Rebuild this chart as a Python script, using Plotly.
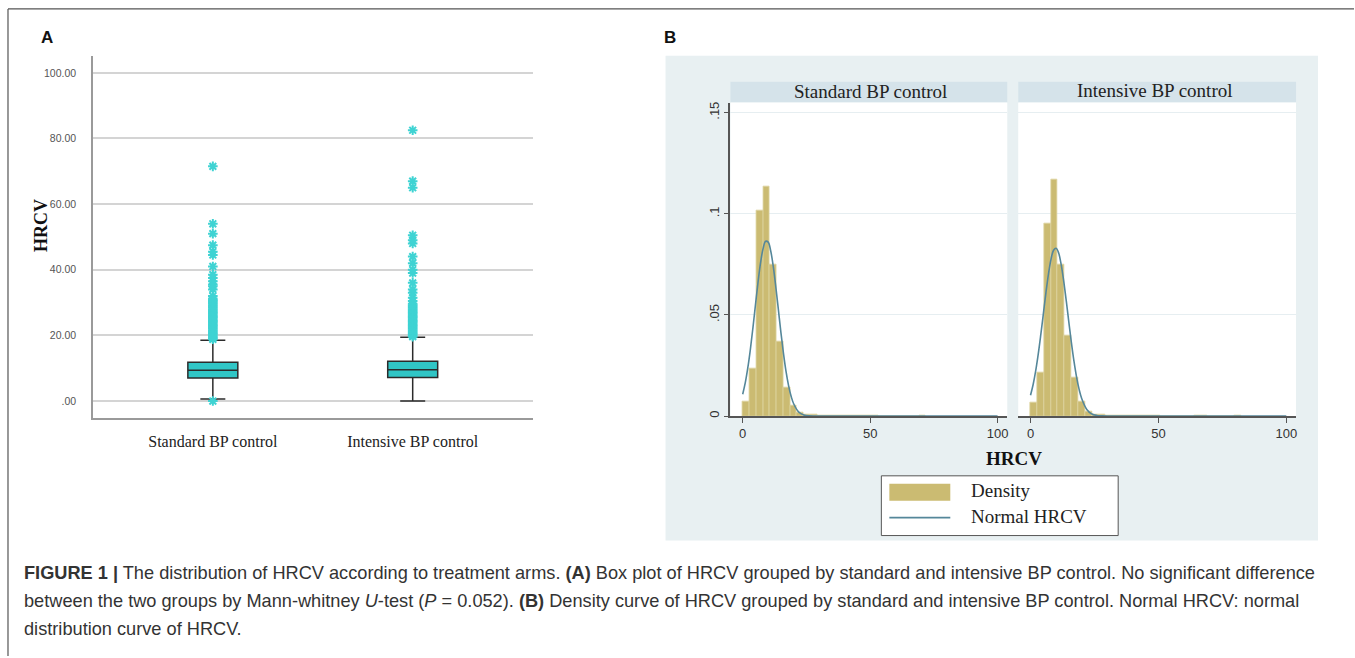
import plotly.graph_objects as go

W, H = 1355, 658

# ---------------- DATA ----------------
groups = ["Standard BP control", "Intensive BP control"]

# Panel A: box statistics (HRCV)
box_q1 = [7.0, 7.2]
box_median = [9.4, 9.5]
box_q3 = [11.8, 12.1]
box_lower = [0.6, 0.0]
box_upper = [18.5, 19.4]

outliers_standard = [0.0, 18.8, 19.2, 19.6, 20.0, 20.4, 20.8, 21.2, 21.6, 22.0, 22.4, 22.8,
                     23.2, 23.6, 24.0, 24.4, 24.8, 25.2, 25.6, 26.0, 26.4, 26.8, 27.2, 27.6,
                     28.0, 28.4, 28.8, 29.2, 29.6, 30.0, 30.4, 30.8, 31.2, 32.0, 34.0, 35.0,
                     35.5, 36.5, 37.5, 38.5, 41.0, 44.5, 45.5, 47.5, 51.0, 54.0, 71.5]
outliers_intensive = [19.6, 20.0, 20.4, 20.8, 21.2, 21.6, 22.0, 22.4, 22.8, 23.2, 23.6, 24.0,
                      24.4, 24.8, 25.2, 25.6, 26.0, 26.4, 26.8, 27.2, 27.6, 28.0, 28.4, 28.8,
                      29.2, 29.6, 30.5, 31.5, 33.0, 34.0, 36.0, 39.0, 40.0, 42.0, 44.0, 48.0,
                      49.0, 50.5, 65.0, 67.0, 82.5]

a_yticks = [0, 20, 40, 60, 80, 100]
a_yticklabels = [".00", "20.00", "40.00", "60.00", "80.00", "100.00"]

# Panel B: histogram densities (common bin width)
bin_width = 2.66
density_standard = [0.0071, 0.0235, 0.1014, 0.1135, 0.075, 0.0369, 0.014, 0.005, 0.002,
                    0.001, 0.0008, 0.0005, 0.0004, 0.0003, 0.0002, 0.0002, 0.0002, 0.0001,
                    0.0001, 0.0001, 0, 0, 0, 0, 0, 0, 0.0002]
density_intensive = [0.0065, 0.0215, 0.095, 0.117, 0.075, 0.040, 0.019, 0.007, 0.0025,
                     0.001, 0.0008, 0.0005, 0.0004, 0.0003, 0.0002, 0.0002, 0.0002, 0.0001,
                     0.0001, 0, 0, 0, 0, 0, 0.0002, 0.0002, 0, 0, 0, 0, 0.0002]

# Normal curves
normal_x = [0, 1, 2, 3, 4, 5, 6, 7, 8, 9, 10, 11, 12, 13, 14, 15, 16, 17, 18, 19, 20,
            22, 24, 26, 28, 30, 100]
normal_standard = [0.0108, 0.0164, 0.0238, 0.0329, 0.0435, 0.0549, 0.0660, 0.0757, 0.0828,
                   0.0864, 0.0860, 0.0816, 0.0739, 0.0638, 0.0526, 0.0413, 0.0310, 0.0221,
                   0.0151, 0.0098, 0.0061, 0.0020, 0.0006, 0.0001, 0.0, 0.0, 0.0]
normal_intensive = [0.0103, 0.0155, 0.0222, 0.0305, 0.0401, 0.0504, 0.0608, 0.0701, 0.0775,
                    0.0820, 0.0830, 0.0806, 0.0748, 0.0665, 0.0567, 0.0462, 0.0361, 0.0270,
                    0.0193, 0.0132, 0.0087, 0.0033, 0.0010, 0.0003, 0.0001, 0.0, 0.0]

b_yticks = [0, 0.05, 0.1, 0.15]
b_yticklabels = ["0", ".05", ".1", ".15"]
b_xticks = [0, 50, 100]

# ---------------- STYLE ----------------
BOX_FILL = "#30c6c6"
OUT_COLOR = "#3fd3d3"
BAR_COLOR = "#cbbb72"
BAR_EDGE = "#ddd3a0"
CURVE = "#55879a"
PANEL_BG = "#e8f0f2"
STRIP_BG = "#d5e3ea"
SERIF = "Liberation Serif, Times New Roman, serif"
SANS = "Liberation Sans, Arial, sans-serif"


def px(x):
    return x / W


def py(y):
    return 1 - y / H


fig = go.Figure()

# ---- Panel A ----
for i, g in enumerate(groups):
    fig.add_trace(go.Box(
        x=[i], q1=[box_q1[i]], median=[box_median[i]], q3=[box_q3[i]],
        lowerfence=[box_lower[i]], upperfence=[box_upper[i]],
        width=0.25, whiskerwidth=0.5, boxpoints=False,
        fillcolor=BOX_FILL, line=dict(color="#2b2b2b", width=1.5),
        xaxis="x", yaxis="y", showlegend=False, hoverinfo="skip"))

for i, vals in enumerate([outliers_standard, outliers_intensive]):
    fig.add_trace(go.Scatter(
        x=[i] * len(vals), y=vals, mode="markers",
        marker=dict(symbol="asterisk-open", size=8, color=OUT_COLOR,
                    line=dict(color=OUT_COLOR, width=2)),
        xaxis="x", yaxis="y", showlegend=False, hoverinfo="skip"))

# ---- Panel B ----
for k, (dens, curve) in enumerate([(density_standard, normal_standard),
                                   (density_intensive, normal_intensive)]):
    xa = "x2" if k == 0 else "x3"
    centers = [(j + 0.5) * bin_width for j in range(len(dens))]
    fig.add_trace(go.Bar(
        x=centers, y=dens, width=bin_width,
        marker=dict(color=BAR_COLOR, line=dict(color=BAR_EDGE, width=0.8)),
        xaxis=xa, yaxis="y2", showlegend=False, hoverinfo="skip"))
    fig.add_trace(go.Scatter(
        x=normal_x, y=curve, mode="lines", line=dict(color=CURVE, width=1.6, shape="spline"),
        xaxis=xa, yaxis="y2", showlegend=False, hoverinfo="skip"))

shapes = []
# figure frame
shapes.append(dict(type="line", xref="paper", yref="paper", x0=px(8), x1=1.0, y0=py(8), y1=py(8),
                   line=dict(color="#555", width=1.2), layer="above"))
shapes.append(dict(type="line", xref="paper", yref="paper", x0=px(8), x1=px(8), y0=py(8), y1=0,
                   line=dict(color="#555", width=1.2), layer="above"))
# panel B background
shapes.append(dict(type="rect", xref="paper", yref="paper", x0=px(666), x1=px(1319),
                   y0=py(542), y1=py(55), fillcolor=PANEL_BG, line=dict(width=0), layer="below"))
# strips
shapes.append(dict(type="rect", xref="paper", yref="paper", x0=px(731), x1=px(1008),
                   y0=py(102), y1=py(81), fillcolor=STRIP_BG, line=dict(width=0), layer="below"))
shapes.append(dict(type="rect", xref="paper", yref="paper", x0=px(1019), x1=px(1297),
                   y0=py(102), y1=py(81), fillcolor=STRIP_BG, line=dict(width=0), layer="below"))
# white plot areas (panel B)
shapes.append(dict(type="rect", xref="paper", yref="paper", x0=px(731), x1=px(1008),
                   y0=py(417), y1=py(102), fillcolor="white", line=dict(width=0), layer="below"))
shapes.append(dict(type="rect", xref="paper", yref="paper", x0=px(1019), x1=px(1297),
                   y0=py(417), y1=py(102), fillcolor="white", line=dict(width=0), layer="below"))
# legend box
shapes.append(dict(type="rect", xref="paper", yref="paper", x0=px(882), x1=px(1119),
                   y0=py(537), y1=py(477), fillcolor="white", line=dict(color="#555", width=1)))
shapes.append(dict(type="rect", xref="paper", yref="paper", x0=px(890), x1=px(951),
                   y0=py(502), y1=py(485), fillcolor=BAR_COLOR, line=dict(width=0)))
shapes.append(dict(type="line", xref="paper", yref="paper", x0=px(890), x1=px(951),
                   y0=py(519), y1=py(519), line=dict(color=CURVE, width=1.6)))

annotations = [
    dict(text="<b>A</b>", x=px(47), y=py(37), xref="paper", yref="paper", showarrow=False,
         font=dict(family=SANS, size=17, color="#111"), xanchor="center", yanchor="middle"),
    dict(text="<b>B</b>", x=px(670), y=py(37), xref="paper", yref="paper", showarrow=False,
         font=dict(family=SANS, size=17, color="#111"), xanchor="center", yanchor="middle"),
    dict(text="<b>HRCV</b>", x=px(41), y=py(225), xref="paper", yref="paper", showarrow=False,
         textangle=-90, font=dict(family=SERIF, size=18, color="#111"),
         xanchor="center", yanchor="middle"),
    dict(text=groups[0], x=px(871), y=py(91), xref="paper", yref="paper", showarrow=False,
         font=dict(family=SERIF, size=19, color="#222"), xanchor="center", yanchor="middle"),
    dict(text=groups[1], x=px(1156), y=py(90), xref="paper", yref="paper", showarrow=False,
         font=dict(family=SERIF, size=19, color="#222"), xanchor="center", yanchor="middle"),
    dict(text="<b>HRCV</b>", x=px(1015), y=py(460), xref="paper", yref="paper", showarrow=False,
         font=dict(family=SERIF, size=19, color="#111"), xanchor="center", yanchor="middle"),
    dict(text="Density", x=px(970), y=py(492), xref="paper", yref="paper", showarrow=False,
         font=dict(family=SERIF, size=19, color="#222"), xanchor="left", yanchor="middle"),
    dict(text="Normal HRCV", x=px(970), y=py(518), xref="paper", yref="paper", showarrow=False,
         font=dict(family=SERIF, size=19, color="#222"), xanchor="left", yanchor="middle"),
]

caption_lines = [
    "<b>FIGURE 1 |</b> The distribution of HRCV according to treatment arms. <b>(A)</b> Box plot of HRCV "
    "grouped by standard and intensive BP control. No significant difference",
    "between the two groups by Mann-whitney <i>U</i>-test (<i>P</i> = 0.052). <b>(B)</b> Density curve of "
    "HRCV grouped by standard and intensive BP control. Normal HRCV: normal",
    "distribution curve of HRCV.",
]
for j, line in enumerate(caption_lines):
    annotations.append(dict(text=line, x=px(22), y=py(575 + 28 * j), xref="paper", yref="paper",
                            showarrow=False, font=dict(family=SANS, size=18.2, color="#333"),
                            xanchor="left", yanchor="middle"))

fig.update_layout(
    width=W, height=H, margin=dict(l=0, r=0, t=0, b=0),
    paper_bgcolor="white", plot_bgcolor="rgba(0,0,0,0)",
    bargap=0, shapes=shapes, annotations=annotations, showlegend=False,
    xaxis=dict(domain=[px(93), px(533)], range=[-0.6, 1.6], tickvals=[0, 1], ticktext=groups,
               showgrid=False, zeroline=False, showline=True, linecolor="#9a9a9a", linewidth=1.5,
               ticks="", ticklabelstandoff=8, tickfont=dict(family=SERIF, size=16, color="#222"),
               anchor="y"),
    yaxis=dict(domain=[py(419), py(55)], range=[-5.2, 105.2], tickvals=a_yticks,
               ticktext=a_yticklabels, showgrid=True, gridcolor="#d4d4d4", gridwidth=2,
               zeroline=False, showline=True, linecolor="#9a9a9a", linewidth=1.5, ticks="",
               ticklabelstandoff=13, tickfont=dict(family=SANS, size=10.5, color="#555"),
               anchor="x"),
    xaxis2=dict(domain=[px(731), px(1008)], range=[-4.8, 103.8], tickvals=b_xticks,
                showgrid=False, zeroline=False, showline=True, linecolor="#555", linewidth=1.5,
                ticks="outside", ticklen=5, tickcolor="#555",
                tickfont=dict(family=SANS, size=13, color="#333"), anchor="y2"),
    xaxis3=dict(domain=[px(1019), px(1297)], range=[-4.8, 103.8], tickvals=b_xticks,
                showgrid=False, zeroline=False, showline=True, linecolor="#555", linewidth=1.5,
                ticks="outside", ticklen=5, tickcolor="#555",
                tickfont=dict(family=SANS, size=13, color="#333"), anchor="y2"),
    yaxis2=dict(domain=[py(417), py(102)], range=[0, 0.155], tickvals=b_yticks,
                ticktext=b_yticklabels, tickangle=-90, showgrid=True, gridcolor="#e6eef1",
                gridwidth=1, zeroline=False, showline=True, linecolor="#555", linewidth=1.5,
                ticks="outside", ticklen=5, tickcolor="#555",
                tickfont=dict(family=SANS, size=13, color="#333"), anchor="x2"),
)

fig.write_html("out.html")
